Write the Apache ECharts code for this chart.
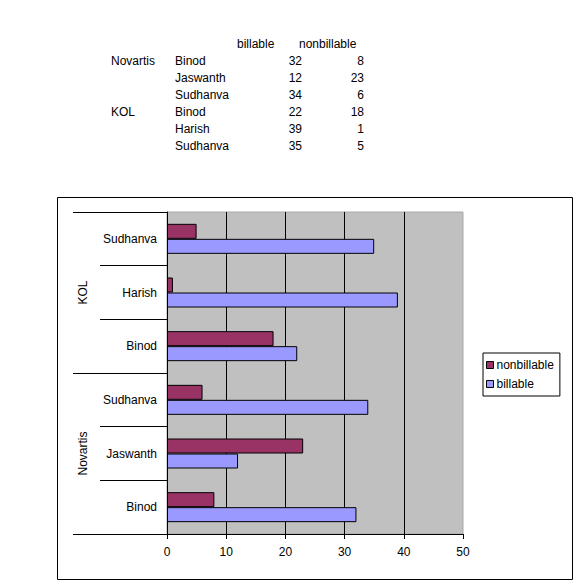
<!DOCTYPE html>
<html>
<head>
<meta charset="utf-8">
<script src="https://cdn.jsdelivr.net/npm/echarts@6/dist/echarts.min.js"></script>
<style>
  html, body { margin: 0; padding: 0; background: #fff; }
  #root { width: 582px; height: 588px; }
</style>
</head>
<body>
<div id="root"></div>
<script>
// 分组 / 人员 / 数值
var groups = ['Novartis', 'KOL'];
var groupOfRow = [0, 0, 0, 1, 1, 1];
var names = ['Binod', 'Jaswanth', 'Sudhanva', 'Binod', 'Harish', 'Sudhanva'];
var billable = [32, 12, 34, 22, 39, 35];
var nonbillable = [8, 23, 6, 18, 1, 5];
var seriesNames = ['billable', 'nonbillable'];

var FONT = 'Liberation Sans, Arial, sans-serif';

// 上方的数据表格 (文本)
function tableGraphics() {
    var els = [];
    var rowY = function (i) { return 61 + 17 * i; };
    var txt = function (x, y, s, align) {
        return {
            type: 'text', x: x, y: y,
            style: { text: s, fill: '#000', font: '12px ' + FONT, textAlign: align || 'left', textVerticalAlign: 'middle' }
        };
    };
    els.push(txt(237, 44, seriesNames[0]));
    els.push(txt(299, 44, seriesNames[1]));
    for (var i = 0; i < names.length; i++) {
        if (i === 0 || groupOfRow[i] !== groupOfRow[i - 1]) {
            els.push(txt(111, rowY(i), groups[groupOfRow[i]]));
        }
        els.push(txt(175, rowY(i), names[i]));
        els.push(txt(302, rowY(i), String(billable[i]), 'right'));
        els.push(txt(364, rowY(i), String(nonbillable[i]), 'right'));
    }
    // 图表外框
    els.push({
        type: 'rect', z: -1,
        shape: { x: 57.5, y: 197.5, width: 515, height: 382 },
        style: { fill: 'none', stroke: '#000', lineWidth: 1 }
    });
    return els;
}

var myChart = echarts.init(document.getElementById('root'), null, { renderer: 'svg' });

var option = {
    backgroundColor: '#fff',
    animation: false,
    textStyle: { fontFamily: FONT },
    graphic: tableGraphics(),
    grid: {
        left: 167, top: 212, right: 119, bottom: 54,
        show: true, backgroundColor: '#c0c0c0', borderColor: '#a8a8a8', borderWidth: 1
    },
    legend: {
        orient: 'vertical', left: 483, top: 353,
        data: ['nonbillable', 'billable'],
        icon: 'rect', itemWidth: 7, itemHeight: 7, itemGap: 7,
        padding: [6, 6, 6, 3],
        borderColor: '#000', borderWidth: 1,
        textStyle: { color: '#000', fontSize: 12, fontFamily: FONT, padding: [0, 0, 0, -2] },
        itemStyle: { borderColor: '#000', borderWidth: 1 }
    },
    xAxis: {
        type: 'value', min: 0, max: 50, interval: 10,
        axisLine: { show: true, lineStyle: { color: '#000' } },
        axisTick: { show: true, length: 5, lineStyle: { color: '#000' } },
        axisLabel: { color: '#000', fontSize: 12, margin: 12, fontFamily: FONT },
        splitLine: { show: true, showMinLine: false, showMaxLine: false, lineStyle: { color: '#000', width: 1 } }
    },
    yAxis: [{
        type: 'category', data: names,
        axisLine: { show: true, lineStyle: { color: '#000' } },
        axisTick: { show: true, length: 67, interval: 0, lineStyle: { color: '#000' } },
        axisLabel: { color: '#000', fontSize: 12, margin: 10, fontFamily: FONT, interval: 0 },
        splitLine: { show: false }
    }, {
        type: 'category', data: groups, position: 'left', offset: 0,
        axisLine: { show: false },
        axisTick: { show: true, length: 94, interval: 0, lineStyle: { color: '#000' } },
        axisLabel: {
            color: '#000', fontSize: 12, fontFamily: FONT, interval: 0,
            rotate: 90, margin: 84, align: 'center', verticalAlign: 'middle'
        },
        splitLine: { show: false }
    }],
    series: [{
        name: 'nonbillable', type: 'bar', yAxisIndex: 0,
        data: nonbillable, barWidth: 15, barGap: '0%',
        itemStyle: { color: '#993366', borderColor: '#000', borderWidth: 1 }
    }, {
        name: 'billable', type: 'bar', yAxisIndex: 0,
        data: billable, barWidth: 15, barGap: '0%',
        itemStyle: { color: '#9999ff', borderColor: '#000', borderWidth: 1 }
    }]
};

myChart.setOption(option);
</script>
</body>
</html>
